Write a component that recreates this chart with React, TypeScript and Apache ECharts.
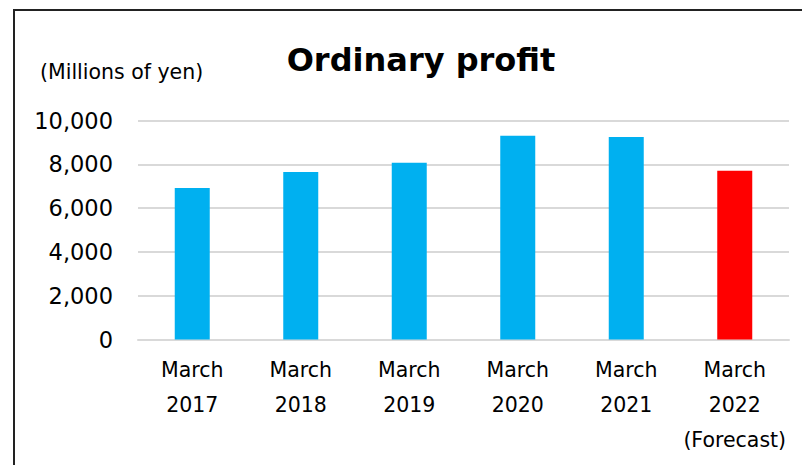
import React, { useEffect, useRef } from "react";
import * as echarts from "echarts";

const categories = ["March\n2017", "March\n2018", "March\n2019", "March\n2020", "March\n2021", "March\n2022\n(Forecast)"];
const values = [6920, 7650, 8070, 9300, 9250, 7700];
const barColors = ["#00B0F0", "#00B0F0", "#00B0F0", "#00B0F0", "#00B0F0", "#FF0000"];
const yTicks = { min: 0, max: 10000, interval: 2000 };
const titleText = "Ordinary profit";
const unitText = "(Millions of yen)";

export default function App() {
  const ref = useRef<HTMLDivElement>(null);
  useEffect(() => {
    document.body.style.margin = "0";
    const chart = echarts.init(ref.current!, null, { renderer: "svg" });
    const font = "DejaVu Sans";
    chart.setOption({
      animation: false,
      backgroundColor: "#fff",
      title: {
        text: titleText,
        left: 416,
        top: 39,
        textAlign: "center",
        textStyle: { fontFamily: font, fontWeight: "bold", fontSize: 32, color: "#000" },
      },
      graphic: [
        {
          type: "rect",
          shape: { x: 14, y: 10, width: 900, height: 600 },
          style: { fill: "none", stroke: "#222", lineWidth: 2 },
          silent: true,
        },
        {
          type: "text",
          x: 40,
          y: 72,
          style: { text: unitText, fontFamily: font, fontSize: 20.5, fill: "#000", textVerticalAlign: "middle" },
        },
      ],
      grid: { left: 138, right: 13, top: 120.5, bottom: 125.5, containLabel: false },
      xAxis: {
        type: "category",
        data: categories,
        axisLine: { lineStyle: { color: "#d9d9d9", width: 2 } },
        axisTick: { show: false },
        axisLabel: {
          fontFamily: font,
          fontSize: 20.5,
          color: "#000",
          lineHeight: 35,
          margin: 13,
          interval: 0,
        },
      },
      yAxis: {
        type: "value",
        min: yTicks.min,
        max: yTicks.max,
        interval: yTicks.interval,
        axisLine: { show: false },
        axisTick: { show: false },
        splitLine: { lineStyle: { color: "#d9d9d9", width: 2 } },
        axisLabel: {
          fontFamily: font,
          fontSize: 22.5,
          color: "#000",
          margin: 25,
          formatter: (v: number) => v.toLocaleString("en-US"),
        },
      },
      series: [
        {
          type: "bar",
          data: values.map((v, i) => ({ value: v, itemStyle: { color: barColors[i] } })),
          barWidth: 35,
        },
      ],
    });
    return () => chart.dispose();
  }, []);
  return <div ref={ref} style={{ width: 802, height: 465 }} />;
}
